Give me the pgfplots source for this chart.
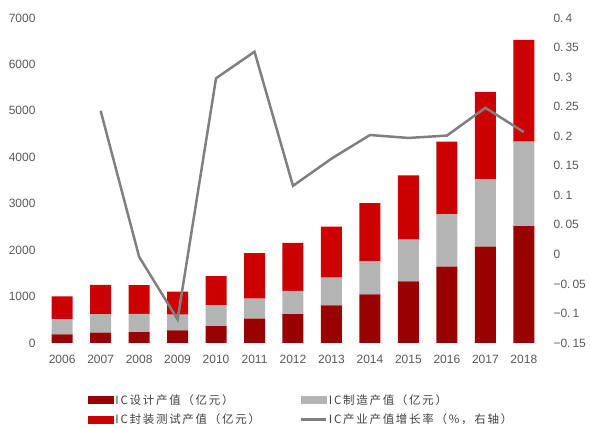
\documentclass[border=0pt]{standalone}
\usepackage{fontspec}
\setmainfont{Liberation Sans}
\newfontfamily\cjk[LetterSpace=15]{Noto Sans CJK SC}
\usepackage{pgfplots}
\pgfplotsset{compat=1.18}
\definecolor{cdesign}{HTML}{990000}
\definecolor{cmfg}{HTML}{B4B4B4}
\definecolor{cpack}{HTML}{CC0000}
\definecolor{cline}{HTML}{808080}
\definecolor{tickgray}{HTML}{595959}
\definecolor{legtext}{HTML}{404040}
\begin{document}
\begin{tikzpicture}
\useasboundingbox (-41pt,-85pt) rectangle (549pt,343pt);
\begin{axis}[
  at={(0,0)}, anchor=south west, scale only axis,
  width=504pt, height=325pt,
  xmin=-0.55, xmax=12.55, ymin=0, ymax=7000,
  ybar stacked, bar width=21pt,
  axis line style={draw=none}, major tick length=0pt,
  xtick={0,...,12},
  xticklabels={2006,2007,2008,2009,2010,2011,2012,2013,2014,2015,2016,2017,2018},
  ytick={0,1000,2000,3000,4000,5000,6000,7000},
  tick label style={font=\fontsize{12}{14}\selectfont, text=tickgray},
  yticklabel style={xshift=-2pt},
  xticklabel style={yshift=-9pt},
  /pgf/number format/assume math mode=true,
  /pgf/number format/set thousands separator={},
  scaled y ticks=false,
]
\addplot[fill=cdesign, draw=none] coordinates {(0,186) (1,225) (2,235) (3,270) (4,363) (5,526) (6,622) (7,809) (8,1047) (9,1325) (10,1644) (11,2074) (12,2519)};
\addplot[fill=cmfg, draw=none] coordinates {(0,323) (1,398) (2,392) (3,341) (4,448) (5,432) (6,501) (7,601) (8,712) (9,901) (10,1127) (11,1448) (12,1818)};
\addplot[fill=cpack, draw=none] coordinates {(0,497) (1,627) (2,618) (3,498) (4,629) (5,976) (6,1036) (7,1099) (8,1256) (9,1384) (10,1564) (11,1889) (12,2194)};
\end{axis}
\begin{axis}[
  at={(0,0)}, anchor=south west, scale only axis,
  width=504pt, height=325pt,
  xmin=-0.55, xmax=12.55, ymin=-0.15, ymax=0.4,
  axis x line=none, axis y line*=right,
  axis line style={draw=none}, major tick length=0pt,
  ytick={-0.15,-0.1,-0.05,0,0.05,0.1,0.15,0.2,0.25,0.3,0.35,0.4},
  yticklabels={−0.\,15,−0.\,1,−0.\,05,0,0.\,05,0.\,1,0.\,15,0.\,2,0.\,25,0.\,3,0.\,35,0.\,4},
  tick label style={font=\fontsize{12}{14}\selectfont, text=tickgray},
  yticklabel style={xshift=5pt},
  legend columns=2,
  legend style={at={(0.087,-0.145)}, anchor=north west, draw=none, fill=none,
    font=\cjk\fontsize{11.5}{14}\selectfont, text=legtext, row sep=4pt,
    cells={anchor=west}},
]
\addlegendimage{legend image code/.code={\fill[cdesign] (0pt,-3.5pt) rectangle (25pt,3.5pt);}}
\addlegendimage{legend image code/.code={\fill[cmfg] (0pt,-3.5pt) rectangle (25pt,3.5pt);}}
\addlegendimage{legend image code/.code={\fill[cpack] (0pt,-3.5pt) rectangle (25pt,3.5pt);}}
\addplot[cline, line width=2.5pt, mark=none, legend image code/.code={\draw[cline, line width=2.5pt] (0pt,0pt) -- (25pt,0pt);}] coordinates {(1,0.243) (2,-0.004) (3,-0.110) (4,0.298) (5,0.343) (6,0.116) (7,0.162) (8,0.202) (9,0.197) (10,0.201) (11,0.248) (12,0.207)};
\legend{{\makebox[182pt][l]{IC设计产值（亿元）}},{IC制造产值（亿元）},{\makebox[182pt][l]{IC封装测试产值（亿元）}},{IC产业产值增长率（\%，右轴）}}
\end{axis}
\end{tikzpicture}
\end{document}
